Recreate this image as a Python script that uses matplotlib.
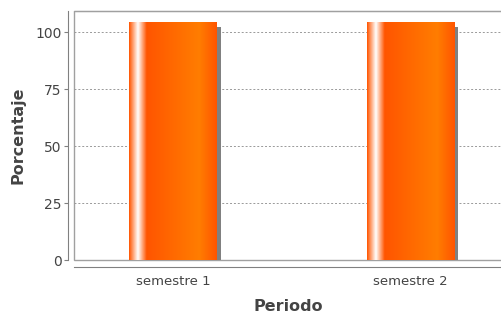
import numpy as np
import matplotlib
matplotlib.use('Agg')
import matplotlib.pyplot as plt
from matplotlib.patches import Rectangle
from matplotlib.transforms import ScaledTranslation

categories = ['semestre 1', 'semestre 2']
values = [104.2, 104.2]
yticks = [0, 25, 50, 75, 100]

base = np.array([255, 85, 0]) / 255
bright = np.array([255, 125, 0]) / 255
white = np.array([1.0, 1.0, 1.0])

def bar_profile(n=200):
    # horizontal gradient like a glossy bar painter: base->white->base->bright->base
    t = np.linspace(0, 1, n)
    out = np.zeros((n, 3))
    for i, u in enumerate(t):
        if u < 0.1:
            f = u / 0.1
            out[i] = base + (white - base) * f
        elif u < 0.2:
            f = (u - 0.1) / 0.1
            out[i] = white + (base - white) * f
        elif u < 0.8:
            f = (u - 0.2) / 0.6
            out[i] = base + (bright - base) * f
        else:
            f = (u - 0.8) / 0.2
            out[i] = bright + (base - bright) * f
    return out[np.newaxis, :, :]

fig = plt.figure(figsize=(5.02, 3.18), dpi=100)
ax = fig.add_axes([74/502, 58/318, 428/502, 249/318])

x = np.arange(len(categories))
width = 0.37
grad = bar_profile()
shadow_tr = ax.transData + ScaledTranslation(4/100, -4/100, fig.dpi_scale_trans)
for xi, v in zip(x, values):
    ax.add_patch(Rectangle((xi - width/2, 0), width, v, facecolor='#808080',
                           edgecolor='none', transform=shadow_tr, zorder=2))
    ax.imshow(grad, extent=[xi - width/2, xi + width/2, 0, v], aspect='auto',
              interpolation='bilinear', zorder=3)

ax.set_xlim(-0.417, 1.385)
ax.set_ylim(0, 109.3)
ax.set_yticks(yticks)
ax.set_xticks(x)
ax.set_xticklabels(categories)

ax.yaxis.grid(True, color='#999999', linestyle=(0, (2, 2)), linewidth=0.7, zorder=1)
ax.set_axisbelow(True)

ax.spines['right'].set_visible(False)
ax.spines['top'].set_color('#a0a0a0')
ax.spines['left'].set_position(('outward', 4))
ax.spines['bottom'].set_position(('outward', 5))
ax.spines['left'].set_color('#808080')
ax.spines['bottom'].set_color('#808080')
# plot outline
ax.add_patch(Rectangle((0, 0), 1, 1, transform=ax.transAxes, facecolor='none',
                       edgecolor='#a0a0a0', linewidth=1, clip_on=False, zorder=0))

ax.tick_params(axis='y', length=3, color='#808080', labelcolor='#444444',
               labelsize=10, pad=2)
ax.tick_params(axis='x', length=0, labelcolor='#444444', labelsize=9.5, pad=6)

ax.set_xlabel('Periodo', fontsize=11.5, fontweight='bold', color='#444444', labelpad=8)
ax.set_ylabel('Porcentaje', fontsize=11.5, fontweight='bold', color='#444444', labelpad=7)

fig.savefig('out.png', dpi=100)
